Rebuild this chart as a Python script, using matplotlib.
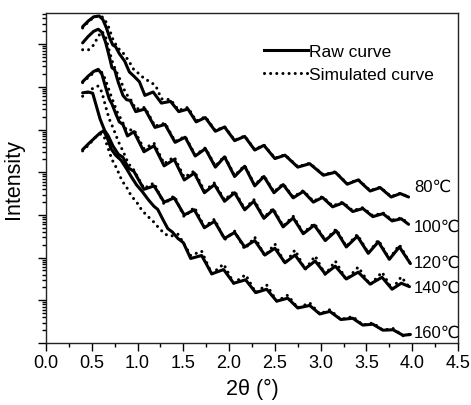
import numpy as np
import matplotlib
matplotlib.use('Agg')
import matplotlib.pyplot as plt
from matplotlib.lines import Line2D
from matplotlib.ticker import LogLocator, NullFormatter, MultipleLocator, FormatStrFormatter

plt.rcParams['font.family'] = ['Liberation Sans', 'DejaVu Sans']

# 2theta (deg) and log10(intensity)
raw80_x = [0.40,0.46,0.52,0.58,0.62,0.66,0.70,0.73,0.76,0.80,0.86,0.91,0.96,1.02,1.08,1.17,1.26,1.36,1.45,1.55,1.64,1.74,1.85,1.95,2.06,2.17,2.28,2.38,2.50,2.61,2.75,2.88,3.03,3.16,3.29,3.41,3.54,3.65,3.77,3.87,3.96]
raw80_y = [7.41,7.54,7.64,7.66,7.58,7.38,7.12,6.98,6.94,6.78,6.60,6.35,6.25,6.12,5.80,5.88,5.62,5.66,5.42,5.48,5.18,5.28,4.96,5.06,4.74,4.84,4.52,4.63,4.32,4.40,4.12,4.20,3.93,4.00,3.72,3.82,3.56,3.64,3.42,3.50,3.42]
sim80_x = [0.40,0.46,0.52,0.58,0.63,0.68,0.73,0.78,0.84,0.90,0.96,1.02,1.08,1.14,1.20,1.26,1.36,1.45,1.55,1.64,1.74,1.85,1.95,2.06,2.17,2.28,2.38,2.50,2.61,2.75,2.88,3.03,3.16,3.29,3.41,3.54,3.65,3.77,3.87,3.96]
sim80_y = [7.38,7.52,7.63,7.67,7.62,7.42,7.12,6.92,6.80,6.62,6.40,6.30,6.18,6.12,6.02,5.72,5.70,5.45,5.52,5.20,5.30,4.97,5.07,4.75,4.85,4.53,4.64,4.33,4.41,4.13,4.21,3.94,4.01,3.73,3.83,3.57,3.65,3.43,3.51,3.42]

raw100_x = [0.40,0.46,0.52,0.57,0.61,0.65,0.69,0.72,0.75,0.79,0.84,0.88,0.92,0.98,1.08,1.19,1.30,1.41,1.52,1.63,1.74,1.85,1.95,2.06,2.17,2.28,2.38,2.49,2.59,2.70,2.81,2.92,3.02,3.13,3.24,3.35,3.46,3.57,3.68,3.78,3.88,3.96]
raw100_y = [7.03,7.18,7.30,7.35,7.28,7.05,6.72,6.45,6.40,6.10,5.80,5.70,5.68,5.42,5.48,5.05,5.12,4.70,4.82,4.38,4.55,4.12,4.36,3.90,4.14,3.68,3.90,3.52,3.71,3.40,3.55,3.30,3.41,3.19,3.28,3.08,3.15,2.96,3.03,2.86,2.91,2.78]
sim100_x = [0.40,0.46,0.52,0.57,0.61,0.65,0.69,0.73,0.77,0.82,0.87,0.92,0.98,1.08,1.19,1.30,1.41,1.52,1.63,1.74,1.85,1.95,2.06,2.17,2.28,2.38,2.49,2.59,2.70,2.81,2.92,3.02,3.13,3.24,3.35,3.46,3.57,3.68,3.78,3.88,3.96]
sim100_y = [6.87,6.86,6.98,7.18,7.30,7.18,6.85,6.55,6.35,6.12,5.85,5.72,5.48,5.52,5.08,5.15,4.72,4.84,4.40,4.57,4.14,4.38,3.92,4.16,3.70,3.92,3.54,3.73,3.42,3.57,3.32,3.43,3.21,3.30,3.10,3.17,2.98,3.05,2.88,2.93,2.80]

raw120_x = [0.40,0.46,0.52,0.57,0.61,0.65,0.69,0.72,0.76,0.80,0.84,0.89,0.96,1.07,1.18,1.29,1.40,1.51,1.62,1.73,1.84,1.95,2.06,2.17,2.27,2.38,2.48,2.59,2.70,2.81,2.93,3.05,3.17,3.28,3.40,3.52,3.63,3.75,3.86,3.98]
raw120_y = [6.12,6.25,6.36,6.41,6.30,6.00,5.72,5.60,5.38,5.18,5.12,4.85,4.95,4.48,4.62,4.15,4.30,3.82,3.98,3.52,3.71,3.32,3.52,3.12,3.32,2.92,3.12,2.72,2.93,2.56,2.76,2.40,2.63,2.25,2.50,2.10,2.37,1.96,2.25,1.86]
sim120_x = [0.40,0.46,0.52,0.57,0.62,0.66,0.70,0.74,0.78,0.83,0.88,0.96,1.07,1.18,1.29,1.40,1.51,1.62,1.73,1.84,1.95,2.06,2.17,2.27,2.38,2.48,2.59,2.70,2.81,2.93,3.05,3.17,3.28,3.40,3.52,3.63,3.75,3.86,3.98]
sim120_y = [6.10,6.22,6.33,6.40,6.32,6.10,5.85,5.62,5.40,5.20,4.98,5.00,4.55,4.68,4.20,4.36,3.88,4.03,3.56,3.75,3.35,3.56,3.14,3.36,2.94,3.15,2.74,2.97,2.58,2.80,2.41,2.67,2.26,2.54,2.11,2.41,1.97,2.30,1.86]

raw140_x = [0.40,0.46,0.51,0.55,0.59,0.64,0.68,0.73,0.79,0.84,0.90,0.96,1.07,1.18,1.29,1.40,1.51,1.62,1.73,1.84,1.95,2.06,2.17,2.28,2.39,2.50,2.61,2.72,2.83,2.94,3.05,3.16,3.28,3.41,3.54,3.67,3.78,3.88,3.97]
raw140_y = [5.86,5.88,5.85,5.55,5.25,4.98,4.85,4.62,4.42,4.35,4.10,4.02,3.60,3.68,3.30,3.40,3.00,3.12,2.70,2.85,2.45,2.59,2.25,2.40,2.06,2.22,1.88,2.06,1.74,1.92,1.62,1.80,1.50,1.66,1.38,1.54,1.26,1.40,1.32]
sim140_x = [0.40,0.46,0.52,0.57,0.61,0.65,0.69,0.74,0.79,0.85,0.90,0.96,1.07,1.18,1.29,1.40,1.51,1.62,1.73,1.84,1.95,2.06,2.17,2.28,2.39,2.50,2.61,2.72,2.83,2.94,3.05,3.16,3.28,3.41,3.54,3.67,3.78,3.88,3.97]
sim140_y = [5.78,5.88,5.98,6.02,5.88,5.55,5.25,5.00,4.72,4.45,4.20,4.05,3.62,3.75,3.25,3.45,2.95,3.18,2.72,2.90,2.42,2.62,2.20,2.48,2.04,2.32,1.86,2.18,1.72,2.04,1.60,1.92,1.48,1.78,1.36,1.66,1.26,1.55,1.30]

raw160_x = [0.40,0.47,0.54,0.59,0.63,0.67,0.71,0.76,0.82,0.88,0.93,0.99,1.05,1.12,1.18,1.22,1.28,1.33,1.38,1.44,1.50,1.58,1.70,1.81,1.94,2.05,2.18,2.29,2.41,2.52,2.64,2.75,2.88,2.99,3.10,3.22,3.35,3.46,3.57,3.68,3.79,3.90,3.98]
raw160_y = [4.53,4.68,4.82,4.92,4.97,4.80,4.55,4.40,4.28,4.08,3.90,3.70,3.55,3.35,3.20,3.13,2.88,2.68,2.60,2.45,2.35,1.98,2.05,1.62,1.72,1.40,1.48,1.18,1.26,0.98,1.05,0.82,0.88,0.68,0.74,0.55,0.58,0.42,0.44,0.30,0.31,0.18,0.20]
sim160_x = [0.40,0.47,0.54,0.60,0.64,0.68,0.72,0.77,0.83,0.88,0.93,0.99,1.05,1.11,1.17,1.23,1.30,1.36,1.44,1.50,1.58,1.70,1.81,1.94,2.05,2.18,2.29,2.41,2.52,2.64,2.75,2.88,2.99,3.10,3.22,3.35,3.46,3.57,3.68,3.79,3.90,3.98]
sim160_y = [4.50,4.65,4.82,4.90,4.80,4.55,4.30,4.10,3.80,3.65,3.45,3.30,3.10,2.97,2.85,2.70,2.55,2.50,2.55,2.35,2.05,2.15,1.62,1.85,1.40,1.60,1.18,1.36,0.98,1.12,0.82,0.94,0.68,0.78,0.55,0.62,0.42,0.47,0.30,0.34,0.17,0.20]

temps = ['80℃', '100℃', '120℃', '140℃', '160℃']
label_y = [3.66, 2.74, 1.90, 1.30, 0.24]

curves = [
    (raw80_x, raw80_y, sim80_x, sim80_y),
    (raw100_x, raw100_y, sim100_x, sim100_y),
    (raw120_x, raw120_y, sim120_x, sim120_y),
    (raw140_x, raw140_y, sim140_x, sim140_y),
    (raw160_x, raw160_y, sim160_x, sim160_y),
]

dot_style = (0, (0.01, 2.0))

fig = plt.figure(figsize=(4.71, 4.06), dpi=100)
ax = fig.add_axes([0.0977, 0.1527, 0.8747, 0.8128])

for rx, ry, sx, sy in curves:
    ax.plot(rx, np.power(10.0, ry), color='black', lw=2.2, solid_joinstyle='round', solid_capstyle='round')
    ax.plot(sx, np.power(10.0, sy), color='black', lw=2.2, linestyle=dot_style, dash_capstyle='round')

for t, ly in zip(temps, label_y):
    ax.text(4.02, 10 ** ly, t, fontsize=12, ha='left', va='center')

ax.set_yscale('log')
ax.set_xlim(0, 4.5)
ax.set_ylim(1, 10 ** 7.73)

ax.xaxis.set_major_locator(MultipleLocator(0.5))
ax.xaxis.set_minor_locator(MultipleLocator(0.25))
ax.xaxis.set_major_formatter(FormatStrFormatter('%.1f'))
ax.yaxis.set_major_locator(LogLocator(base=10, numticks=20))
ax.yaxis.set_minor_locator(LogLocator(base=10, subs=np.arange(2, 10), numticks=20))
ax.yaxis.set_major_formatter(NullFormatter())
ax.yaxis.set_minor_formatter(NullFormatter())

ax.tick_params(axis='both', which='major', direction='out', length=6, width=1.0, labelsize=13, pad=2)
ax.tick_params(axis='both', which='minor', direction='out', length=3, width=1.0)
ax.tick_params(top=False, right=False)
for s in ax.spines.values():
    s.set_linewidth(1.0)
    s.set_color('#222222')

ax.set_xlabel('2θ (°)', fontsize=15.5, labelpad=5)
ax.set_ylabel('Intensity', fontsize=15.5, labelpad=8)

handles = [Line2D([], [], color='black', lw=2.2),
           Line2D([], [], color='black', lw=2.2, linestyle=dot_style, dash_capstyle='round')]
ax.legend(handles, ['Raw curve', 'Simulated curve'], loc='upper left', bbox_to_anchor=(0.53, 0.907),
          frameon=False, fontsize=12.5, handlelength=2.5, handletextpad=0.05, borderpad=0,
          labelspacing=0.45, borderaxespad=0)

fig.savefig('out.png', dpi=100)
